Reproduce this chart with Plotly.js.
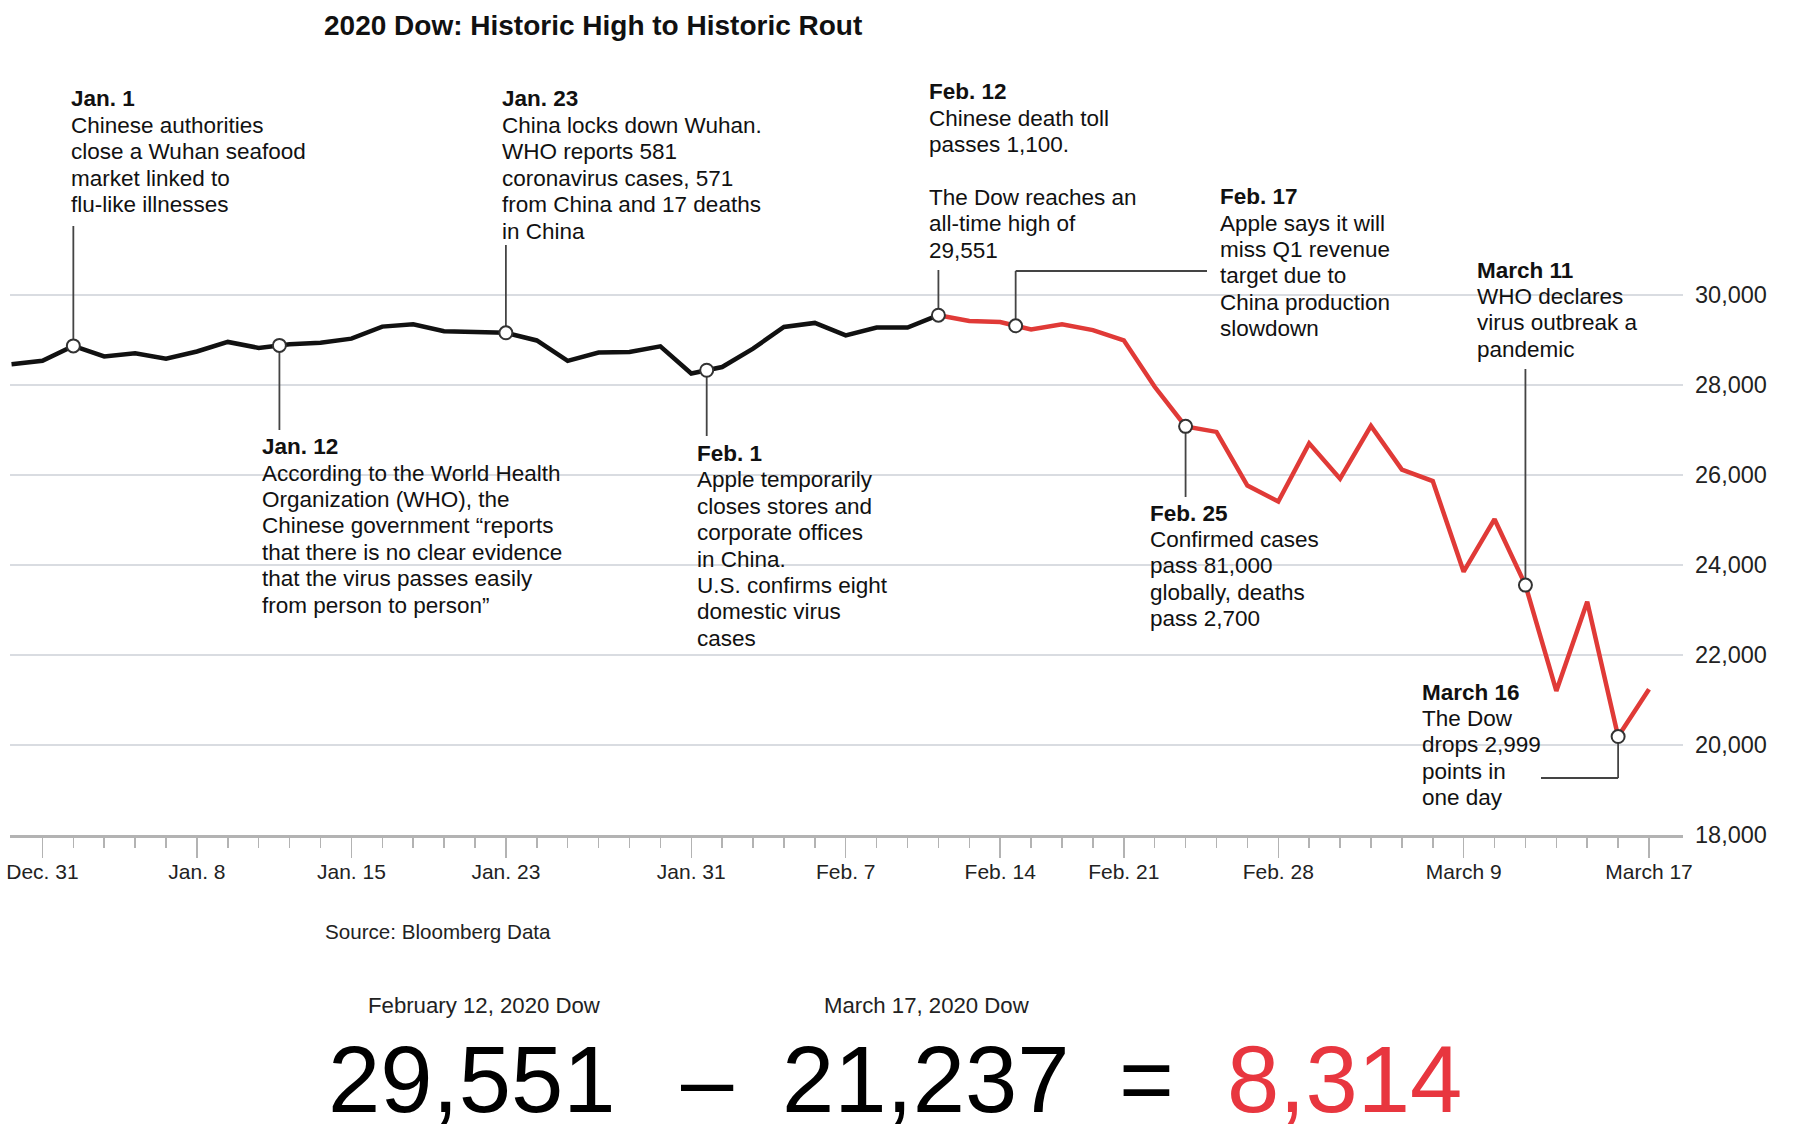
<!DOCTYPE html>
<html>
<head>
<meta charset="utf-8">
<script src="https://cdn.plot.ly/plotly-3.0.1.min.js"></script>
<style>
html,body{margin:0;padding:0;background:#fff;}
#chart{width:1800px;height:1147px;}
</style>
</head>
<body>
<div id="chart"></div>
<script>
// ---------------- DATA ----------------
const tradingDates = ['2019-12-30','2019-12-31','2020-01-02','2020-01-03','2020-01-06','2020-01-07','2020-01-08','2020-01-09','2020-01-10','2020-01-13','2020-01-14','2020-01-15','2020-01-16','2020-01-17','2020-01-21','2020-01-22','2020-01-23','2020-01-24','2020-01-27','2020-01-28','2020-01-29','2020-01-30','2020-01-31','2020-02-03','2020-02-04','2020-02-05','2020-02-06','2020-02-07','2020-02-10','2020-02-11','2020-02-12','2020-02-13','2020-02-14','2020-02-18','2020-02-19','2020-02-20','2020-02-21','2020-02-24','2020-02-25','2020-02-26','2020-02-27','2020-02-28','2020-03-02','2020-03-03','2020-03-04','2020-03-05','2020-03-06','2020-03-09','2020-03-10','2020-03-11','2020-03-12','2020-03-13','2020-03-16','2020-03-17'];
const dowClose = [28462.14,28538.44,28868.80,28634.88,28703.38,28583.68,28745.09,28956.90,28823.77,28907.05,28939.67,29030.22,29297.64,29348.10,29196.04,29186.27,29160.09,28989.73,28535.80,28722.85,28734.45,28859.44,28256.03,28399.81,28807.63,29290.85,29379.77,29102.51,29276.82,29276.34,29551.42,29423.31,29398.08,29232.19,29348.03,29219.98,28992.41,27960.80,27081.36,26957.59,25766.64,25409.36,26703.32,25917.41,27090.86,26121.28,25864.78,23851.02,25018.16,23553.22,21200.62,23185.62,20188.52,21237.38];
const peakDate = '2020-02-12';
const lastDate = '2020-03-17';

const tickDates  = ['2019-12-31','2020-01-08','2020-01-15','2020-01-23','2020-01-31','2020-02-07','2020-02-14','2020-02-21','2020-02-28','2020-03-09','2020-03-17'];
const tickLabels = ['Dec. 31','Jan. 8','Jan. 15','Jan. 23','Jan. 31','Feb. 7','Feb. 14','Feb. 21','Feb. 28','March 9','March 17'];
const yTickVals  = [18000,20000,22000,24000,26000,28000,30000];

const eventLabels = ['Jan. 1','Jan. 12','Jan. 23','Feb. 1','Feb. 12','Feb. 17','Feb. 25','March 11','March 16'];
// position of each event along the trading-day axis (fractional for non-trading dates)
const eventPos = [2, 8.67, 16, 22.5, 30, 32.5, 38, 49, 52];
const eventText = [
  ['Chinese authorities','close a Wuhan seafood','market linked to','flu-like illnesses'],
  ['According to the World Health','Organization (WHO), the','Chinese government \u201creports','that there is no clear evidence','that the virus passes easily','from person to person\u201d'],
  ['China locks down Wuhan.','WHO reports 581','coronavirus cases, 571','from China and 17 deaths','in China'],
  ['Apple temporarily','closes stores and','corporate offices','in China.','U.S. confirms eight','domestic virus','cases'],
  ['Chinese death toll','passes 1,100.','','The Dow reaches an','all-time high of','29,551'],
  ['Apple says it will','miss Q1 revenue','target due to','China production','slowdown'],
  ['Confirmed cases','pass 81,000','globally, deaths','pass 2,700'],
  ['WHO declares','virus outbreak a','pandemic'],
  ['The Dow','drops 2,999','points in','one day']
];

const titleText = '2020 Dow: Historic High to Historic Rout';
const sourceText = 'Source: Bloomberg Data';
const peakLabel = 'February 12, 2020 Dow';
const lastLabel = 'March 17, 2020 Dow';

// ---------------- LAYOUT GEOMETRY ----------------
const FONT = 'Liberation Sans, Arial, Helvetica, sans-serif';
const PL = 10, PR = 1683, PT = 160, PB = 835;
const X0 = -0.05, X1 = 54.1, Y0 = 18000, Y1 = 33000;
const LH = 26.4;
const BLACK = '#111111', RED = '#e03a37', LEAD = '#444444', GRID = '#d9dce1', AXIS = '#b3b3b3';

function fontAvailable(name){
  const c = document.createElement('canvas').getContext('2d');
  const s = '29,551 21,237 abcdefghij';
  c.font = '100px monospace'; const a = c.measureText(s).width;
  c.font = "100px '" + name + "', monospace"; const b = c.measureText(s).width;
  return Math.abs(a - b) > 0.5;
}
const hasNarrow = fontAvailable('Liberation Sans Narrow');
const BIGFONT = hasNarrow ? "'Liberation Sans Narrow', Liberation Sans, Arial, sans-serif" : FONT;
const BIGSIZE = hasNarrow ? 106 : 94;

function pxX(x){ return (x - PL) / (PR - PL); }
function pxY(y){ return (PB - y) / (PB - PT); }
function dataYfromPx(y){ return Y0 + (PB - y) / (PB - PT) * (Y1 - Y0); }
function dataXfromPx(x){ return X0 + (x - PL) / (PR - PL) * (X1 - X0); }
function valueAt(pos){
  const i = Math.floor(pos), f = pos - i;
  if (f === 0 || i + 1 >= dowClose.length) return dowClose[i];
  return dowClose[i] * (1 - f) + dowClose[i + 1] * f;
}

// per-event placement of text block, leader line end and white box (pixels)
const eventPlace = [
  {tx:70,    ty:99,    lead:{y:226}},
  {tx:260.6, ty:446.6, lead:{y:430},          box:[247,433,582,622]},
  {tx:500.5, ty:99,    lead:{y:245}},
  {tx:695.7, ty:453.5, lead:{y:436},          box:[677,440,901,660]},
  {tx:927.6, ty:91.7,  lead:{y:270}},
  {tx:1219,  ty:196.7, lead:{y:271, x:1207},  box:[1192,184,1420,340]},
  {tx:1149,  ty:513,   lead:{y:497},          box:[1133,500,1313,632]},
  {tx:1476,  ty:270,   lead:{y:369},          box:[1462,257,1653,362]},
  {tx:1421,  ty:692,   lead:{y:778, x:1541},  box:[1392,680,1544,812]}
];

// ---------------- TRACES ----------------
const xIdx = tradingDates.map((d, i) => i);
const split = tradingDates.indexOf(peakDate);
const last = tradingDates.indexOf(lastDate);

const traces = [
  {x:xIdx.slice(0, split + 1), y:dowClose.slice(0, split + 1), type:'scatter', mode:'lines',
   line:{color:BLACK, width:4.5, shape:'linear'}, hoverinfo:'skip'},
  {x:xIdx.slice(split), y:dowClose.slice(split), type:'scatter', mode:'lines',
   line:{color:RED, width:4.5, shape:'linear'}, hoverinfo:'skip'},
  {x:eventPos, y:eventPos.map(valueAt), type:'scatter', mode:'markers',
   marker:{size:13, color:'#ffffff', line:{color:'#333333', width:2}}, hoverinfo:'skip'}
];

// ---------------- SHAPES ----------------
const shapes = [];
eventPlace.forEach(p => {
  if (p.box) shapes.push({type:'rect', xref:'paper', yref:'paper', layer:'between',
    x0:pxX(p.box[0]), x1:pxX(p.box[2]), y0:pxY(p.box[3]), y1:pxY(p.box[1]),
    fillcolor:'#ffffff', line:{width:0}});
});
eventPlace.forEach((p, k) => {
  const x = eventPos[k], yv = valueAt(x), yEnd = dataYfromPx(p.lead.y);
  shapes.push({type:'line', xref:'x', yref:'y', layer:'between', x0:x, x1:x, y0:yv, y1:yEnd,
    line:{color:LEAD, width:1.8}});
  if (p.lead.x !== undefined) {
    shapes.push({type:'line', xref:'x', yref:'y', layer:'between', x0:x, x1:dataXfromPx(p.lead.x),
      y0:yEnd, y1:yEnd, line:{color:LEAD, width:1.8}});
  }
});

// ---------------- ANNOTATIONS ----------------
const annotations = [];
function addText(text, x, y, size, color, anchor, bold, family){
  annotations.push({text: bold ? '<b>' + text + '</b>' : text, xref:'paper', yref:'paper',
    x:pxX(x), y:pxY(y), xanchor:anchor || 'left', yanchor:'middle', showarrow:false,
    borderpad:0, font:{family:family || FONT, size:size, color:color}});
}
eventPlace.forEach((p, k) => {
  addText(eventLabels[k], p.tx, p.ty, 22.5, BLACK, 'left', true);
  eventText[k].forEach((line, j) => {
    if (line) addText(line, p.tx, p.ty + (j + 1) * LH, 22.5, BLACK, 'left', false);
  });
});
addText(sourceText, 324, 931, 20.6, '#222222', 'left', false);

const fmt = v => Math.round(v).toLocaleString('en-US');
const peakVal = Math.round(dowClose[split]);
const lastVal = Math.round(dowClose[last]);
addText(peakLabel, 484.5, 1005.6, 22.2, '#222222', 'center', false);
addText(lastLabel, 927, 1005.6, 22.2, '#222222', 'center', false);
addText(fmt(peakVal), 472, 1079, BIGSIZE, '#000000', 'center', false, BIGFONT);
addText('\u2013', 707, 1079, BIGSIZE, '#000000', 'center', false, BIGFONT);
addText(fmt(lastVal), 926, 1079, BIGSIZE, '#000000', 'center', false, BIGFONT);
addText('=', 1146, 1079, BIGSIZE, '#000000', 'center', false, BIGFONT);
addText(fmt(peakVal - lastVal), 1344, 1079, BIGSIZE, '#e8363f', 'center', false, BIGFONT);

// ---------------- LAYOUT ----------------
const layout = {
  width:1800, height:1147,
  margin:{l:PL, r:1800 - PR, t:PT, b:1147 - PB, pad:0},
  paper_bgcolor:'#ffffff', plot_bgcolor:'#ffffff',
  showlegend:false, hovermode:false,
  title:{text:'<b>' + titleText + '</b>', font:{family:FONT, size:28, color:'#111111'},
         x:324/1800, xanchor:'left', xref:'container', y:1 - 25/1147, yref:'container', yanchor:'middle'},
  xaxis:{range:[X0, X1], tickmode:'array', tickvals:tickDates.map(d => tradingDates.indexOf(d)),
         ticktext:tickLabels, ticks:'outside', ticklen:20, tickwidth:1.5, tickcolor:AXIS,
         showline:true, linecolor:AXIS, linewidth:2.5, showgrid:false, zeroline:false,
         ticklabelstandoff:-4,
         tickfont:{family:FONT, size:21, color:'#222222'},
         minor:{tickmode:'array', tickvals:xIdx.slice(1), ticks:'outside', ticklen:10,
                tickwidth:1.5, tickcolor:AXIS, showgrid:false}},
  yaxis:{range:[Y0, Y1], side:'right', tickmode:'array', tickvals:yTickVals,
         ticktext:yTickVals.map(fmt), ticks:'', showgrid:true, gridcolor:GRID, gridwidth:2,
         zeroline:false, showline:false, ticklabelstandoff:11,
         tickfont:{family:FONT, size:23.5, color:'#222222'}},
  shapes:shapes,
  annotations:annotations
};

Plotly.newPlot('chart', traces, layout, {displayModeBar:false, staticPlot:true});
</script>
</body>
</html>
